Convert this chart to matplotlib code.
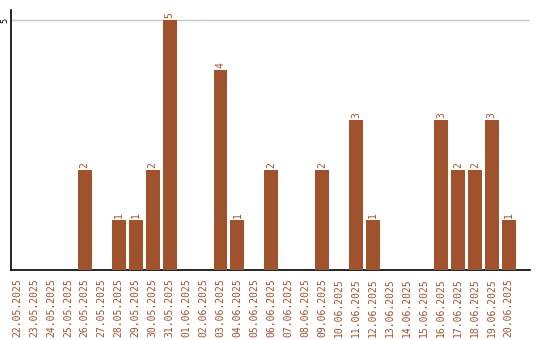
import matplotlib
matplotlib.use('Agg')
import matplotlib.pyplot as plt

dates = ['22.05.2025', '23.05.2025', '24.05.2025', '25.05.2025', '26.05.2025',
         '27.05.2025', '28.05.2025', '29.05.2025', '30.05.2025', '31.05.2025',
         '01.06.2025', '02.06.2025', '03.06.2025', '04.06.2025', '05.06.2025',
         '06.06.2025', '07.06.2025', '08.06.2025', '09.06.2025', '10.06.2025',
         '11.06.2025', '12.06.2025', '13.06.2025', '14.06.2025', '15.06.2025',
         '16.06.2025', '17.06.2025', '18.06.2025', '19.06.2025', '20.06.2025']
counts = [0, 0, 0, 0, 2, 0, 1, 1, 2, 5,
          0, 0, 4, 1, 0, 2, 0, 0, 2, 0,
          3, 1, 0, 0, 0, 3, 2, 2, 3, 1]

BAR = '#a0522d'

fig = plt.figure(figsize=(5.4, 3.4), dpi=100)
ax = fig.add_axes([11/540, 70/340, 519/540, 260/340])

x = range(len(dates))
ax.bar(x, counts, width=0.82, color=BAR, zorder=3)

# value labels above bars
for i, v in enumerate(counts):
    if v > 0:
        ax.text(i, v + 0.04, str(v), rotation=90, ha='center', va='bottom',
                fontsize=7, color=BAR, family='DejaVu Sans Mono')

ax.set_xlim(-0.35, 30.25)
ax.set_ylim(0, 5.2)
ax.set_yticks([5])
ax.set_yticklabels(['5'], rotation=90, va='center', fontsize=6,
                   family='DejaVu Sans Mono')
ax.tick_params(axis='y', length=0, pad=1)
ax.axhline(5, color='#c8c8c8', lw=1, zorder=1)

ax.set_xticks(list(x))
ax.set_xticklabels(dates, rotation=90, fontsize=7, color=BAR,
                   family='DejaVu Sans Mono')
ax.tick_params(axis='x', length=0, pad=6)

for s in ['top', 'right']:
    ax.spines[s].set_visible(False)
ax.spines['left'].set_linewidth(1.2)
ax.spines['bottom'].set_linewidth(1.2)

fig.savefig('out.png', dpi=100, facecolor='white')
